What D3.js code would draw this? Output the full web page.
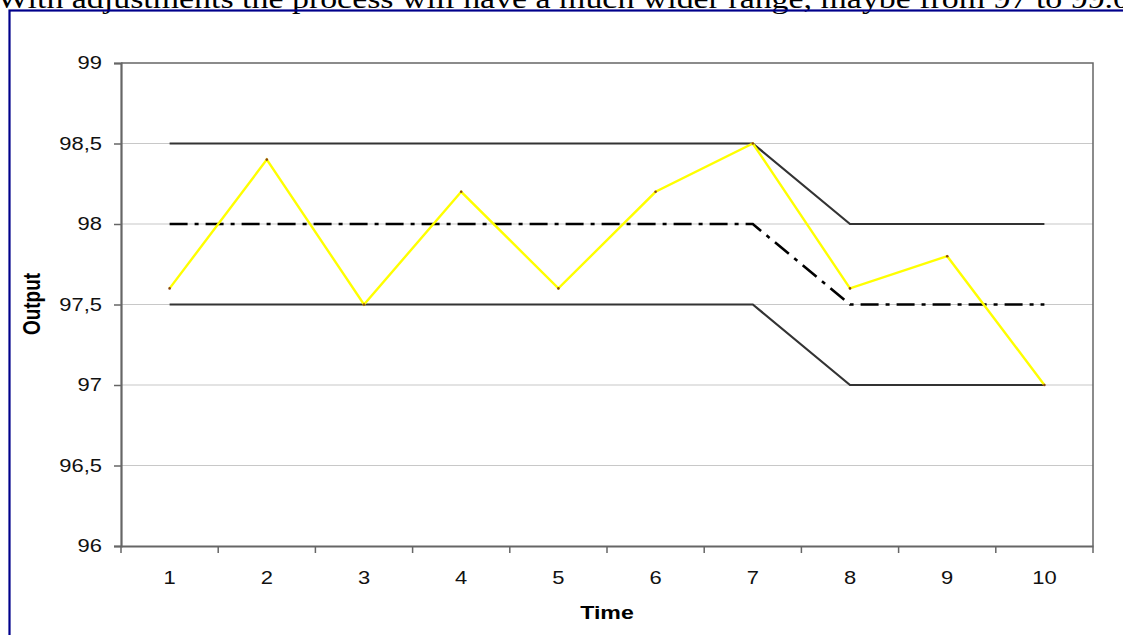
<!DOCTYPE html>
<html><head><meta charset="utf-8">
<script src="https://cdn.jsdelivr.net/npm/d3@7"></script>
<style>html,body{margin:0;padding:0;background:#fff;overflow:hidden}</style>
</head><body>
<svg id="c" width="1123" height="635"></svg>
<script>
const categories = ["1","2","3","4","5","6","7","8","9","10"];
const outputValues = [97.6, 98.4, 97.5, 98.2, 97.6, 98.2, 98.5, 97.6, 97.8, 97.0];
const upperLimit = [98.5, 98.5, 98.5, 98.5, 98.5, 98.5, 98.5, 98.0, 98.0, 98.0];
const centerLine = [98.0, 98.0, 98.0, 98.0, 98.0, 98.0, 98.0, 97.5, 97.5, 97.5];
const lowerLimit = [97.5, 97.5, 97.5, 97.5, 97.5, 97.5, 97.5, 97.0, 97.0, 97.0];
const yTicks = [96, 96.5, 97, 97.5, 98, 98.5, 99];
const title = "With adjustments the process will have a much wider range, maybe from 97 to 99.0";

const svg = d3.select("#c");
const L = 121, R = 1093, T = 63, B = 546;
const SX = 1.22;
const sans = "Liberation Sans, Arial, sans-serif";

// heading text (cropped at top)
svg.append("text").attr("x", -3).attr("y", 8)
  .attr("font-family", "Liberation Serif, Times New Roman, serif").attr("font-size", 28)
  .attr("textLength", 1133).attr("lengthAdjust", "spacingAndGlyphs")
  .attr("fill", "#000").text(title);

// blue frame
svg.append("rect").attr("x", 9.5).attr("y", 10.5).attr("width", 1130).attr("height", 700)
  .attr("fill", "none").attr("stroke", "#00008b").attr("stroke-width", 2.2);

const x = d3.scaleBand().domain(categories).range([L, R]);
const y = d3.scaleLinear().domain([96, 99]).range([B, T]);
const cx = d => x(d) + x.bandwidth() / 2;

// grid
svg.append("g").selectAll("line").data(yTicks.filter(v => v !== 96 && v !== 99)).join("line")
  .attr("x1", L).attr("x2", R).attr("y1", d => y(d)).attr("y2", d => y(d))
  .attr("stroke", "#c8c8c8").attr("stroke-width", 1.2);

// plot border top/right
svg.append("path").attr("d", `M${L},${T}H${R}V${B}`).attr("fill", "none")
  .attr("stroke", "#666").attr("stroke-width", 1.5);

// y axis
const ya = svg.append("g").attr("transform", `translate(${L},0)`)
  .call(d3.axisLeft(y).tickValues(yTicks).tickSize(7).tickFormat(""));
ya.select(".domain").attr("stroke", "#666").attr("stroke-width", 2.2);
ya.selectAll(".tick line").attr("stroke", "#666").attr("stroke-width", 1.5);
svg.append("g").selectAll("text").data(yTicks).join("text")
  .attr("transform", d => `translate(102,${y(d)}) scale(${SX},1)`)
  .attr("text-anchor", "end").attr("dy", "0.36em")
  .attr("font-family", sans).attr("font-size", 18).attr("fill", "#111")
  .text(d => String(d).replace(".", ","));

// x axis
const xa = svg.append("g").attr("transform", `translate(0,${B})`)
  .call(d3.axisBottom(x).tickSize(0).tickFormat(""));
xa.select(".domain").attr("stroke", "#666").attr("stroke-width", 2.2);
const bounds = categories.map(c => x(c)).concat([R]);
svg.append("g").selectAll("line").data(bounds).join("line")
  .attr("x1", d => d).attr("x2", d => d).attr("y1", B).attr("y2", B + 7)
  .attr("stroke", "#666").attr("stroke-width", 1.5);
svg.append("g").selectAll("text").data(categories).join("text")
  .attr("transform", d => `translate(${cx(d)},584) scale(${SX},1)`)
  .attr("text-anchor", "middle")
  .attr("font-family", sans).attr("font-size", 18).attr("fill", "#111")
  .text(d => d);

const line = d3.line().x((d, i) => cx(categories[i])).y(d => y(d));

svg.append("path").datum(upperLimit).attr("d", line).attr("fill", "none").attr("stroke", "#333").attr("stroke-width", 2.2);
svg.append("path").datum(lowerLimit).attr("d", line).attr("fill", "none").attr("stroke", "#333").attr("stroke-width", 2.2);
svg.append("path").datum(centerLine).attr("d", line).attr("fill", "none").attr("stroke", "#000")
  .attr("stroke-width", 2.6).attr("stroke-dasharray", "18,7,4,7");
svg.append("path").datum(outputValues).attr("d", line).attr("fill", "none").attr("stroke", "#ffff00").attr("stroke-width", 2.4);
svg.append("g").selectAll("circle").data(outputValues).join("circle")
  .attr("cx", (d, i) => cx(categories[i])).attr("cy", d => y(d)).attr("r", 1.3).attr("fill", "#8b4513");

// axis titles
svg.append("text").attr("transform", `translate(40,304) scale(${SX},1) rotate(-90)`).attr("text-anchor", "middle")
  .attr("font-family", sans).attr("font-weight", "bold").attr("font-size", 19).text("Output");
svg.append("text").attr("transform", `translate(607,619) scale(${SX},1)`).attr("text-anchor", "middle")
  .attr("font-family", sans).attr("font-weight", "bold").attr("font-size", 19).text("Time");
</script>
</body></html>
